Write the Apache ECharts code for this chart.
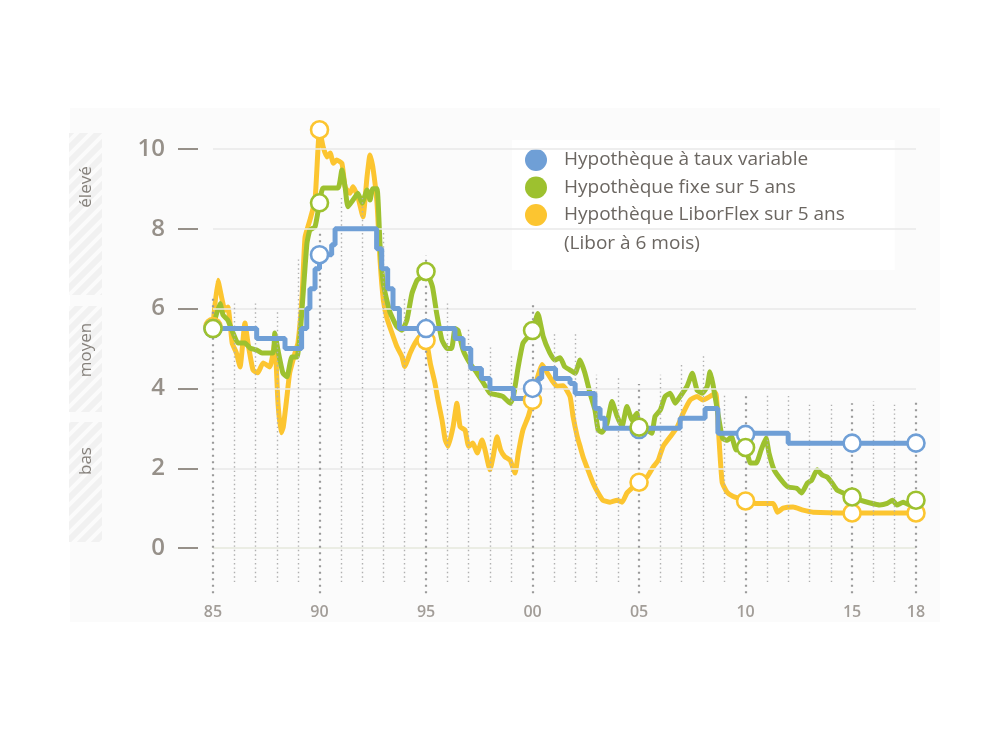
<!DOCTYPE html>
<html><head><meta charset="utf-8">
<script src="https://cdn.jsdelivr.net/npm/echarts@6/dist/echarts.min.js"></script>
<style>html,body{margin:0;padding:0;background:#fff}#c{width:991px;height:743px}</style>
</head><body><div id="c"></div>
<script>
const seriesNames = ['Hypothèque à taux variable', 'Hypothèque fixe sur 5 ans', 'Hypothèque LiborFlex sur 5 ans'];
const legendNote = '(Libor à 6 mois)';
const bandLabels = ['élevé', 'moyen', 'bas'];
const xTickYears = [1985, 1990, 1995, 2000, 2005, 2010, 2015, 2018];
const yTicks = [0, 2, 4, 6, 8, 10];

// variable-rate mortgage: [year of change, new rate]
const blueSteps = [[1985,5.5],[1987.05,5.25],[1988.38,5.0],[1989.16,5.5],[1989.4,6.0],[1989.55,6.5],[1989.79,7.0],[1990.0,7.35],[1990.57,7.6],[1990.73,8.0],[1992.68,7.5],[1992.92,7.0],[1993.2,6.5],[1993.45,6.0],[1993.75,5.5],[1996.36,5.25],[1996.74,5.0],[1997.1,4.5],[1997.6,4.25],[1998.0,4.0],[1999.1,3.75],[1999.9,4.0],[2000.26,4.25],[2000.43,4.5],[2001.08,4.25],[2001.76,4.125],[2002.0,3.875],[2002.93,3.5],[2003.17,3.25],[2003.4,3.0],[2006.93,3.25],[2008.1,3.5],[2008.7,2.875],[2012.0,2.625],[2018.0,2.625]];

const greenData = [[1985.0,5.54],[1985.33,6.13],[1985.47,5.84],[1985.7,5.71],[1985.94,5.39],[1986.17,5.14],[1986.5,5.14],[1986.74,5.01],[1987.06,4.96],[1987.3,4.89],[1987.82,4.89],[1987.9,5.39],[1988.05,4.96],[1988.28,4.39],[1988.47,4.29],[1988.7,4.79],[1988.94,4.79],[1989.08,5.29],[1989.22,6.29],[1989.41,7.64],[1989.55,7.97],[1989.79,8.05],[1990.0,8.65],[1990.17,9.02],[1990.87,9.02],[1991.05,9.47],[1991.2,9.05],[1991.33,8.55],[1991.57,8.72],[1991.8,8.89],[1992.0,8.64],[1992.23,8.97],[1992.37,8.72],[1992.5,9.0],[1992.7,9.0],[1992.84,7.6],[1993.0,6.6],[1993.3,5.92],[1993.63,5.55],[1993.87,5.46],[1994.1,5.71],[1994.34,6.38],[1994.58,6.71],[1994.8,6.8],[1995.0,6.93],[1995.3,6.55],[1995.5,5.88],[1995.75,5.21],[1996.0,5.0],[1996.2,5.0],[1996.36,5.5],[1996.5,5.46],[1996.74,4.96],[1997.06,4.63],[1997.4,4.38],[1997.7,4.13],[1998.0,3.88],[1998.33,3.84],[1998.6,3.8],[1998.95,3.63],[1999.1,3.8],[1999.33,4.55],[1999.55,5.13],[1999.8,5.3],[2000.0,5.45],[2000.25,5.88],[2000.5,5.3],[2000.8,4.9],[2001.05,4.71],[2001.3,4.77],[2001.5,4.55],[2001.76,4.46],[2002.0,4.38],[2002.23,4.71],[2002.46,4.38],[2002.7,3.88],[2002.93,3.46],[2003.08,2.96],[2003.26,2.9],[2003.5,3.13],[2003.73,3.67],[2003.97,3.3],[2004.2,3.05],[2004.43,3.55],[2004.67,3.21],[2004.9,3.38],[2005.0,3.03],[2005.37,2.96],[2005.6,2.88],[2005.75,3.3],[2006.0,3.46],[2006.22,3.8],[2006.46,3.88],[2006.7,3.63],[2006.93,3.8],[2007.25,4.05],[2007.5,4.38],[2007.72,3.96],[2007.96,3.88],[2008.2,4.05],[2008.33,4.42],[2008.47,4.1],[2008.7,3.38],[2008.92,2.75],[2009.15,2.7],[2009.34,2.79],[2009.56,2.46],[2009.85,2.55],[2010.0,2.52],[2010.23,2.13],[2010.5,2.13],[2010.73,2.46],[2010.96,2.76],[2011.1,2.38],[2011.34,1.96],[2011.76,1.65],[2012.0,1.53],[2012.4,1.5],[2012.63,1.38],[2012.9,1.63],[2013.1,1.7],[2013.36,1.96],[2013.6,1.83],[2013.83,1.78],[2014.06,1.63],[2014.3,1.45],[2014.58,1.38],[2015.0,1.28],[2015.38,1.2],[2015.85,1.13],[2016.3,1.08],[2016.65,1.12],[2016.9,1.2],[2017.1,1.08],[2017.4,1.15],[2017.7,1.08],[2018.0,1.2]];

const orangeData = [[1985.0,5.58],[1985.23,6.71],[1985.4,6.29],[1985.56,5.96],[1985.7,6.04],[1985.9,5.14],[1986.1,4.89],[1986.27,4.54],[1986.5,5.64],[1986.64,5.14],[1986.88,4.46],[1987.1,4.39],[1987.35,4.64],[1987.67,4.54],[1987.9,5.14],[1988.05,3.64],[1988.2,2.89],[1988.3,3.04],[1988.47,3.79],[1988.6,4.39],[1988.85,4.89],[1988.99,5.14],[1989.18,6.29],[1989.32,7.79],[1989.55,8.22],[1989.79,8.72],[1990.0,10.48],[1990.17,10.05],[1990.35,9.8],[1990.5,9.9],[1990.65,9.64],[1990.8,9.72],[1991.05,9.64],[1991.2,9.05],[1991.43,8.89],[1991.57,9.05],[1991.8,8.8],[1992.04,8.3],[1992.23,9.3],[1992.37,9.85],[1992.5,9.56],[1992.7,8.64],[1992.84,7.22],[1993.0,6.2],[1993.17,5.75],[1993.4,5.39],[1993.63,5.05],[1993.87,4.8],[1994.0,4.55],[1994.25,4.88],[1994.48,5.13],[1994.7,5.3],[1995.0,5.21],[1995.2,4.63],[1995.42,4.13],[1995.56,3.71],[1995.75,3.21],[1995.9,2.71],[1996.04,2.55],[1996.27,3.04],[1996.45,3.63],[1996.6,3.04],[1996.83,2.96],[1997.0,2.55],[1997.2,2.63],[1997.4,2.38],[1997.63,2.71],[1997.77,2.46],[1998.0,1.96],[1998.15,2.29],[1998.33,2.79],[1998.5,2.46],[1998.7,2.29],[1998.95,2.2],[1999.18,1.88],[1999.33,2.38],[1999.55,2.96],[1999.8,3.3],[2000.0,3.7],[2000.2,4.21],[2000.45,4.6],[2000.7,4.38],[2000.9,4.21],[2001.15,4.05],[2001.43,4.07],[2001.76,3.8],[2001.9,3.3],[2002.1,2.79],[2002.23,2.55],[2002.37,2.29],[2002.6,1.96],[2002.84,1.63],[2003.08,1.38],[2003.3,1.2],[2003.64,1.15],[2003.97,1.2],[2004.2,1.15],[2004.43,1.38],[2004.72,1.53],[2005.0,1.65],[2005.37,1.78],[2005.66,2.03],[2005.9,2.2],[2006.13,2.55],[2006.46,2.79],[2006.8,3.04],[2007.07,3.38],[2007.4,3.71],[2007.72,3.8],[2008.0,3.71],[2008.33,3.8],[2008.6,3.88],[2008.72,3.0],[2008.9,1.65],[2009.13,1.4],[2009.4,1.3],[2009.72,1.24],[2010.0,1.18],[2010.46,1.12],[2011.3,1.12],[2011.5,0.9],[2011.76,1.0],[2012.23,1.03],[2012.7,0.95],[2013.17,0.9],[2014.9,0.88],[2018.0,0.88]];

const markerYears = [1985, 1990, 1995, 2000, 2005, 2010, 2015, 2018];
const blueMarks = [5.5, 7.35, 5.5, 4.0, 2.97, 2.85, 2.63, 2.63];
const greenMarks = [5.5, 8.65, 6.93, 5.45, 3.03, 2.52, 1.28, 1.2];
const orangeMarks = [5.55, 10.48, 5.2, 3.7, 1.65, 1.18, 0.88, 0.88];

// dotted year guides: one per year, top value of each
const guideYears = [1985,1986,1987,1988,1989,1990,1991,1992,1993,1994,1995,1996,1997,1998,1999,2000,2001,2002,2003,2004,2005,2006,2007,2008,2009,2010,2011,2012,2013,2014,2015,2016,2017,2018];
const guideTops = [6.34,6.2,6.14,5.94,7.24,7.92,8.77,8.77,7.97,6.27,7.34,6.14,5.51,5.04,4.84,6.17,5.39,5.39,4.34,4.26,4.11,4.34,4.66,4.84,3.88,3.88,3.83,3.81,3.66,3.63,3.63,3.68,3.66,3.66];
const guideBottomMinor = -0.85;
const guideBottomMajor = -1.13;

const C_BLUE = '#6f9fd6', C_GREEN = '#9dc12f', C_ORANGE = '#fcc530';
const FONT = '"Open Sans", "Noto Sans", sans-serif';

function hatch() {
  const cv = document.createElement('canvas');
  cv.width = 14; cv.height = 14;
  const g = cv.getContext('2d');
  g.fillStyle = '#f1f1f1'; g.fillRect(0, 0, 14, 14);
  g.strokeStyle = '#fbfbfb'; g.lineWidth = 4;
  g.beginPath();
  g.moveTo(-2, 16); g.lineTo(16, -2);
  g.moveTo(-9, 9); g.lineTo(9, -9);
  g.moveTo(5, 23); g.lineTo(23, 5);
  g.stroke();
  return cv;
}
const pat = { image: hatch(), repeat: 'repeat' };

const isMajor = y => xTickYears.indexOf(y) >= 0;
const guideLines = guideYears.map((y, i) => {
  const maj = isMajor(y);
  return [
    { coord: [y, maj ? guideBottomMajor : guideBottomMinor],
      lineStyle: maj ? { color: '#9a9a9a', width: 2.2, type: [2, 4.5] } : { color: '#b0b0b0', width: 1.4, type: [1.4, 3] } },
    { coord: [y, guideTops[i]] }
  ];
});
const gridLines = yTicks.map(v => ({ yAxis: v, lineStyle: { color: v === 0 ? '#e6e9dd' : '#e8e8e8', width: 1.5, type: 'solid' } }));

const markerSeries = (name, vals, color, z) => ({
  type: 'scatter', name: name + ' m', z: z, silent: true,
  symbol: 'circle', symbolSize: 17,
  itemStyle: { color: '#fff', borderColor: color, borderWidth: 2.6, opacity: 1 },
  data: markerYears.map((y, i) => [y, vals[i]])
});

const chart = echarts.init(document.getElementById('c'), null, { renderer: 'canvas' });
chart.setOption({
  animation: false,
  backgroundColor: '#fff',
  textStyle: { fontFamily: FONT },
  grid: { left: 213, right: 75, top: 117, bottom: 147 },
  xAxis: {
    type: 'value', min: 1985, max: 2018,
    axisLine: { show: false }, axisTick: { show: false }, splitLine: { show: false },
    axisLabel: {
      customValues: xTickYears, margin: 8, fontSize: 16, fontWeight: 600, color: '#a29d98', fontFamily: FONT,
      formatter: v => String(Math.round(v) % 100).padStart(2, '0')
    }
  },
  yAxis: {
    type: 'value', min: -1.2, max: 10.8, offset: 15,
    axisLine: { show: false }, splitLine: { show: false },
    axisTick: { show: true, customValues: yTicks, length: 20, lineStyle: { color: '#969089', width: 2 } },
    axisLabel: { customValues: yTicks, margin: 33, fontSize: 24, fontWeight: 600, color: '#969089', fontFamily: FONT }
  },
  legend: {
    orient: 'vertical', left: 512, top: 140,
    icon: 'circle', itemWidth: 46, itemHeight: 22, itemGap: 5.5,
    backgroundColor: '#fff', padding: [9, 50, 44, 13],
    selectedMode: false,
    textStyle: { fontSize: 19, color: '#6b6661', fontFamily: FONT },
    data: [
      { name: seriesNames[0], itemStyle: { color: C_BLUE } },
      { name: seriesNames[1], itemStyle: { color: C_GREEN } },
      { name: seriesNames[2], itemStyle: { color: C_ORANGE } }
    ]
  },
  graphic: [
    { type: 'rect', z: -10, silent: true, shape: { x: 70, y: 108, width: 870, height: 514 }, style: { fill: '#fbfbfb' } },
    { type: 'rect', z: -9, silent: true, shape: { x: 69, y: 133, width: 33, height: 162 }, style: { fill: pat } },
    { type: 'rect', z: -9, silent: true, shape: { x: 69, y: 306, width: 33, height: 106 }, style: { fill: pat } },
    { type: 'rect', z: -9, silent: true, shape: { x: 69, y: 422, width: 33, height: 120 }, style: { fill: pat } },
    { type: 'text', z: 5, silent: true, x: 86, y: 187, rotation: Math.PI / 2, style: { text: bandLabels[0], fontSize: 17, fill: '#85807b', align: 'center', verticalAlign: 'middle', fontFamily: FONT } },
    { type: 'text', z: 5, silent: true, x: 86, y: 350, rotation: Math.PI / 2, style: { text: bandLabels[1], fontSize: 17, fill: '#85807b', align: 'center', verticalAlign: 'middle', fontFamily: FONT } },
    { type: 'text', z: 5, silent: true, x: 86, y: 461, rotation: Math.PI / 2, style: { text: bandLabels[2], fontSize: 17, fill: '#85807b', align: 'center', verticalAlign: 'middle', fontFamily: FONT } },
    { type: 'text', z: 100, silent: true, x: 564, y: 244, style: { text: legendNote, fontSize: 19, fill: '#6b6661', align: 'left', verticalAlign: 'middle', fontFamily: FONT } }
  ],
  series: [
    {
      type: 'line', name: 'guides', data: [], z: 1, silent: true,
      markLine: { silent: true, symbol: ['none', 'none'], label: { show: false }, animation: false,
        data: gridLines.concat(guideLines) }
    },
    { type: 'line', name: seriesNames[2], z: 3, data: orangeData, showSymbol: false, smooth: 0.15,
      itemStyle: { color: C_ORANGE }, lineStyle: { color: C_ORANGE, width: 5, join: 'round' } },
    { type: 'line', name: seriesNames[1], z: 4, data: greenData, showSymbol: false, smooth: 0.15,
      itemStyle: { color: C_GREEN }, lineStyle: { color: C_GREEN, width: 5, join: 'round' } },
    { type: 'line', name: seriesNames[0], z: 5, data: blueSteps, showSymbol: false, step: 'end',
      itemStyle: { color: C_BLUE }, lineStyle: { color: C_BLUE, width: 5 } },
    markerSeries(seriesNames[2], orangeMarks, C_ORANGE, 6),
    markerSeries(seriesNames[0], blueMarks, C_BLUE, 7),
    markerSeries(seriesNames[1], greenMarks, C_GREEN, 8)
  ]
});
</script>
</body></html>
